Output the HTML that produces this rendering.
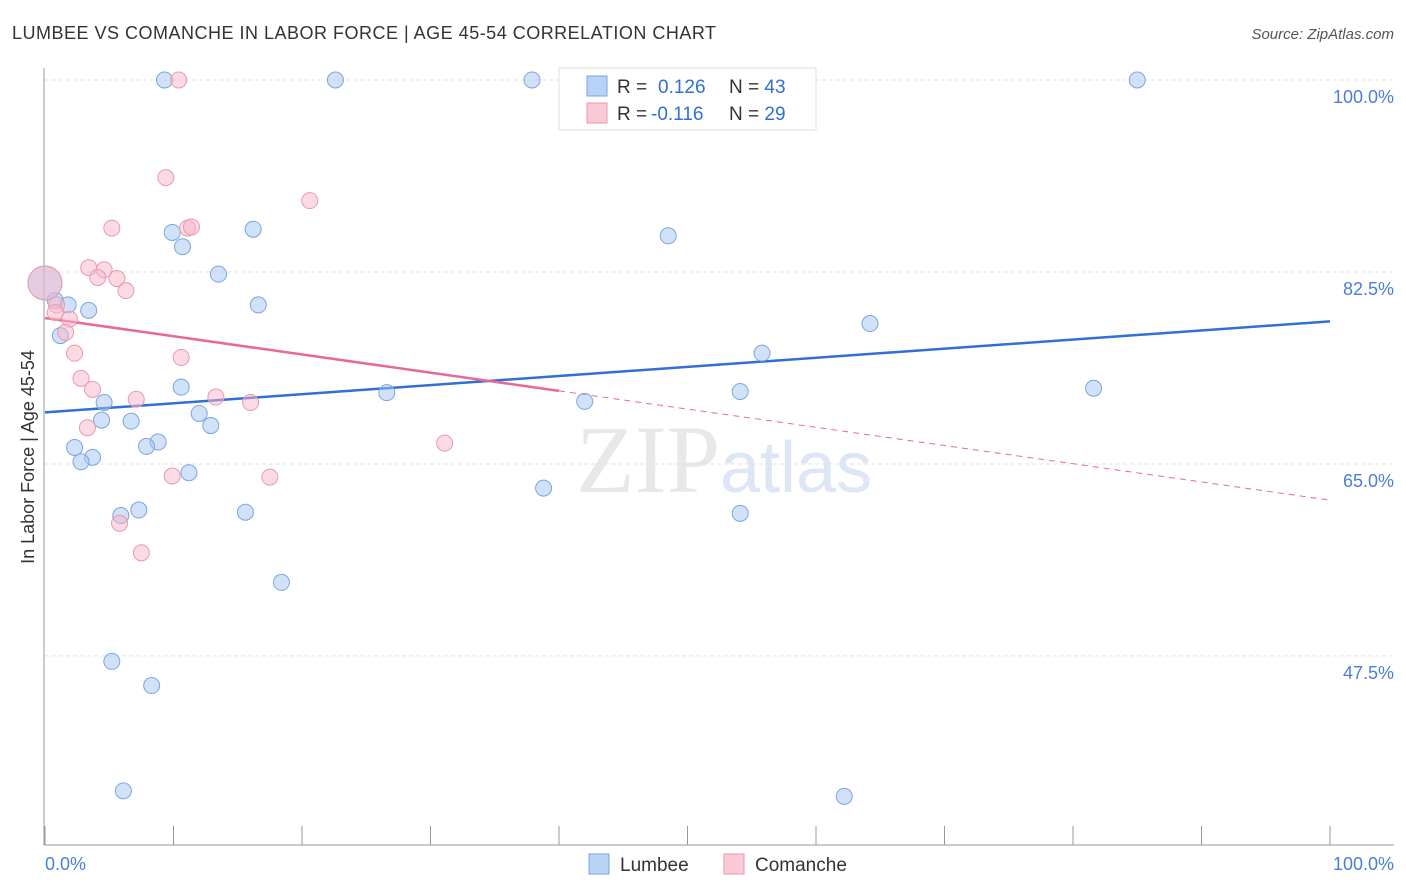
<!DOCTYPE html>
<html><head><meta charset="utf-8"><style>
body{margin:0;background:#fff;font-family:"Liberation Sans",sans-serif;}
svg{display:block}
</style></head><body>
<svg width="1406" height="892" id="chart">
<text x="12" y="39" font-size="18" fill="#333" textLength="704">LUMBEE VS COMANCHE IN LABOR FORCE | AGE 45-54 CORRELATION CHART</text>
<text x="1394" y="39" font-size="15" fill="#555" font-style="italic" text-anchor="end">Source: ZipAtlas.com</text>
<text x="720" y="492" font-size="96" fill="#e8e8e8" text-anchor="end" font-family="Liberation Serif">ZIP</text>
<text x="720" y="492" font-size="72" fill="#dce6f4">atlas</text>
<g id="grid"></g><g id="axes"></g><g id="lines"></g><g id="pts"></g>
<text transform="translate(34,457) rotate(-90)" font-size="18" fill="#333" text-anchor="middle">In Labor Force | Age 45-54</text>
<text x="45" y="870" font-size="18" fill="#4a7fd6">0.0%</text>
<text x="1394" y="870" font-size="18" fill="#4a7fd6" text-anchor="end">100.0%</text>
<g>
<rect x="559" y="68" width="257" height="62" fill="#fff" stroke="#ddd"/>
<rect x="587" y="76" width="20" height="20" fill="#b9d3f6" stroke="#7aa6e0"/>
<rect x="587" y="103" width="20" height="20" fill="#f9c9d6" stroke="#e89ab0"/>
<text x="617" y="93" font-size="19" fill="#333">R = <tspan fill="#2f6fd6" x="658">0.126</tspan><tspan fill="#333" x="729">N = </tspan><tspan fill="#2f6fd6">43</tspan></text>
<text x="617" y="120" font-size="19" fill="#333">R = <tspan fill="#2f6fd6" x="651">-0.116</tspan><tspan fill="#333" x="729">N = </tspan><tspan fill="#2f6fd6">29</tspan></text>
</g>
<g>
<rect x="589" y="854" width="20" height="20" fill="#b9d3f6" stroke="#7aa6e0"/>
<text x="620" y="871" font-size="19" fill="#333">Lumbee</text>
<rect x="724" y="854" width="20" height="20" fill="#f9c9d6" stroke="#e89ab0"/>
<text x="755" y="871" font-size="19" fill="#333">Comanche</text>
</g>
</svg>
<script>
const yTicks=[100,82.5,65,47.5];
const yTickLabels=["100.0%","82.5%","65.0%","47.5%"];
const xTicks=[0,10,20,30,40,50,60,70,80,90,100];
const lumbeeX=[9.3,22.6,37.9,85.0,9.9,10.7,16.2,48.5,13.5,16.6,0.8,1.8,3.4,1.2,64.2,55.8,10.6,26.6,54.1,81.6,42.0,4.6,12.0,4.4,6.7,12.9,2.3,8.8,7.9,3.7,2.8,11.2,38.8,7.3,5.9,15.6,54.1,18.4,5.2,8.3,6.1,62.2,0];
const lumbeeY=[100,100,100,100,86.1,84.8,86.4,85.8,82.3,79.5,79.9,79.5,79.0,76.7,77.8,75.1,72.0,71.5,71.6,71.9,70.7,70.6,69.6,69.0,68.9,68.5,66.5,67.0,66.6,65.6,65.2,64.2,62.8,60.8,60.3,60.6,60.5,54.2,47.0,44.8,35.2,34.7,81.5];
const comX=[10.4,9.4,20.6,5.2,11.1,11.4,3.4,4.6,4.1,5.6,6.3,0.9,0.8,1.9,1.6,2.3,10.6,2.8,3.7,13.3,7.1,16.0,3.3,31.1,9.9,17.5,5.8,7.5,0];
const comY=[100,91.1,89.0,86.5,86.5,86.6,82.9,82.7,82.0,81.9,80.8,79.5,78.8,78.2,77.0,75.1,74.7,72.8,71.8,71.1,70.9,70.6,68.3,66.9,63.9,63.8,59.6,56.9,81.5];
const lumbeeTrend=[69.7,78.0];
const comTrend=[78.3,61.7];
const comSolidEnd=40;
const X=v=>45+v*12.85, Y=v=>80+(100-v)*10.97;
const NS="http://www.w3.org/2000/svg";
function mk(t,a,p){const e=document.createElementNS(NS,t);for(const k in a)e.setAttribute(k,a[k]);document.getElementById(p).appendChild(e);return e;}
yTicks.forEach((t,i)=>{
 const g=mk('line',{x1:45,x2:1394,y1:Y(t),y2:Y(t),stroke:'#e2e2e2','stroke-dasharray':'4,3'},'grid');
 
 
 const l=mk('text',{x:1394,y:Y(t)+23,'font-size':18,fill:'#4a7fd6','text-anchor':'end'},'axes');l.textContent=yTickLabels[i];
 
 
});
let a=mk('line',{x1:44,x2:44,y1:68,y2:845,stroke:'#999'},'axes');


a=mk('line',{x1:44,x2:1394,y1:845,y2:845,stroke:'#999'},'axes');


xTicks.forEach(t=>{const e=mk('line',{x1:X(t),x2:X(t),y1:826,y2:845,stroke:'#999'},'axes');
 
 });
function pts(xs,ys,fill,stroke,name){xs.forEach((x,i)=>{const big=(x===0);
 const c=mk('circle',{cx:X(x),cy:Y(ys[i]),r:big?17:8,fill:fill,stroke:stroke,'stroke-width':1},'pts');
 
 });}
pts(lumbeeX,lumbeeY,'rgba(164,196,240,0.5)','#7aa6e0','lumbee-point');
pts(comX,comY,'rgba(248,182,202,0.5)','#e89ab0','comanche-point');
let l=mk('line',{x1:X(0),x2:X(100),y1:Y(lumbeeTrend[0]),y2:Y(lumbeeTrend[1]),stroke:'#2f6fd6','stroke-width':2.5},'lines');


const cy=v=>comTrend[0]+(comTrend[1]-comTrend[0])*v/100;
l=mk('line',{x1:X(0),x2:X(comSolidEnd),y1:Y(cy(0)),y2:Y(cy(comSolidEnd)),stroke:'#e8689a','stroke-width':2.5},'lines');


l=mk('line',{x1:X(comSolidEnd),x2:X(100),y1:Y(cy(comSolidEnd)),y2:Y(cy(100)),stroke:'#e8689a','stroke-width':1,'stroke-dasharray':'6,5'},'lines');


</script>
</body></html>
